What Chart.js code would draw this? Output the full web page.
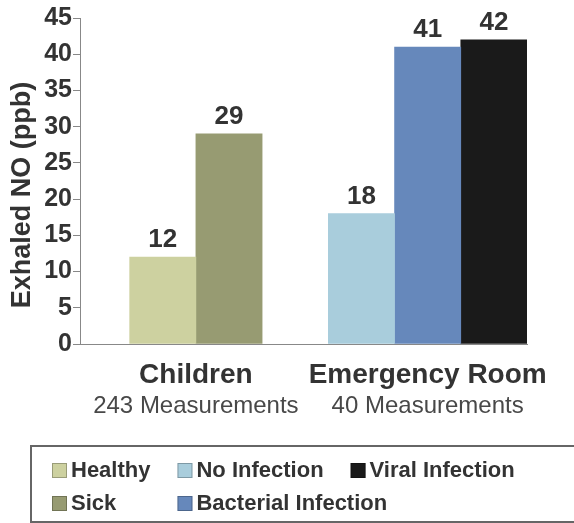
<!DOCTYPE html>
<head>
  <script src="https://cdn.jsdelivr.net/npm/chart.js"></script>
  <style>
    body { margin: 0; background: #fff; }
    .chartBox { width: 574px; height: 523px; }
  </style>
</head>
<body>
  <div class="chartBox">
    <canvas id="noChart"></canvas>
  </div>

<script>
// bar order along the x axis, '' is the gap between the two groups
const slots = ['Healthy', 'Sick', '', 'No Infection', 'Bacterial Infection', 'Viral Infection'];
const seriesNames = ['Healthy', 'Sick', 'No Infection', 'Bacterial Infection', 'Viral Infection'];
const seriesValues = [12, 29, 18, 41, 42];
const seriesColors = ['#cdd1a0', '#979b72', '#a9cddc', '#6688bb', '#1a1a1a'];
const groupNames = ['Children', 'Emergency Room'];
const groupNotes = ['243 Measurements', '40 Measurements'];
const groupMembers = [['Healthy', 'Sick'], ['No Infection', 'Bacterial Infection', 'Viral Infection']];
const yTitle = 'Exhaled NO (ppb)';
const yMax = 45, yStep = 5;

const FONT = '"Liberation Sans", Arial, sans-serif';
const TEXT = '#333';

const datasets = seriesNames.map((name, i) => ({
  label: name,
  data: [{ x: slots.indexOf(name), y: seriesValues[i] }],
  backgroundColor: seriesColors[i],
  grouped: false,
  barPercentage: 1,
  categoryPercentage: 1
}));

const extras = {
  id: 'extras',
  afterDatasetsDraw(chart) {
    const { ctx, scales: { x } } = chart;
    ctx.save();
    ctx.fillStyle = TEXT;
    ctx.textAlign = 'center';
    ctx.textBaseline = 'alphabetic';

    // value above each bar
    ctx.font = 'bold 26px ' + FONT;
    chart.data.datasets.forEach((ds, i) => {
      const bar = chart.getDatasetMeta(i).data[0];
      ctx.fillText(String(ds.data[0].y), bar.x, bar.y - 10);
    });

    // group names under the axis
    groupNames.forEach((g, i) => {
      const idx = groupMembers[i].map(n => slots.indexOf(n));
      const cx = x.getPixelForValue((Math.min(...idx) + Math.max(...idx)) / 2);
      ctx.font = 'bold 28px ' + FONT;
      ctx.fillText(g, cx, 383);
      ctx.font = '24px ' + FONT;
      ctx.fillStyle = '#484848';
      ctx.fillText(groupNotes[i], cx, 413);
      ctx.fillStyle = TEXT;
    });

    // y axis title
    ctx.save();
    ctx.translate(23, 195);
    ctx.rotate(-Math.PI / 2);
    ctx.textBaseline = 'middle';
    ctx.font = 'bold 27px ' + FONT;
    ctx.fillText(yTitle, 0, 0);
    ctx.restore();

    // legend box
    ctx.strokeStyle = '#666';
    ctx.lineWidth = 2;
    ctx.strokeRect(31, 446, 560, 76);
    ctx.font = 'bold 22px ' + FONT;
    ctx.textAlign = 'left';
    ctx.textBaseline = 'middle';
    let colX = 52;
    const rows = [470, 503];
    for (let c = 0; c * 2 < seriesNames.length; c++) {
      let rowWidth = 0;
      for (let r = 0; r < 2; r++) {
        const i = c * 2 + r;
        if (i >= seriesNames.length) break;
        ctx.fillStyle = seriesColors[i];
        ctx.fillRect(colX, rows[r] - 7, 15, 15);
        ctx.strokeStyle = 'rgba(0,0,0,0.25)';
        ctx.lineWidth = 1;
        ctx.strokeRect(colX + 0.5, rows[r] - 6.5, 14, 14);
        ctx.fillStyle = TEXT;
        ctx.fillText(seriesNames[i], colX + 19, rows[r] + 1);
        if (r === 0) rowWidth = 19 + ctx.measureText(seriesNames[i]).width;
      }
      colX += rowWidth + 27;
    }
    ctx.restore();
  }
};

new Chart(document.getElementById('noChart'), {
  type: 'bar',
  data: { datasets },
  options: {
    responsive: true,
    maintainAspectRatio: false,
    animation: false,
    layout: { padding: { top: 18, right: 47, left: 0, bottom: 0 } },
    plugins: {
      legend: { display: false },
      tooltip: { enabled: false }
    },
    scales: {
      x: {
        type: 'linear',
        offset: false,
        min: -1.25,
        max: slots.length - 0.5,
        afterBuildTicks(scale) {
          scale.ticks = slots.map((s, i) => ({ value: i }));
        },
        afterFit(scale) { scale.height = 179; },
        ticks: { display: false },
        grid: { display: false, offset: false },
        border: { color: '#888', width: 1 }
      },
      y: {
        min: 0,
        max: yMax,
        afterFit(scale) { scale.width = 80; },
        ticks: {
          stepSize: yStep,
          padding: 1,
          color: TEXT,
          font: { family: FONT, size: 25, weight: 'bold' }
        },
        grid: { drawOnChartArea: false, tickLength: 7, color: '#888' },
        border: { color: '#888', width: 1 }
      }
    }
  },
  plugins: [extras]
});
</script>
</body>
